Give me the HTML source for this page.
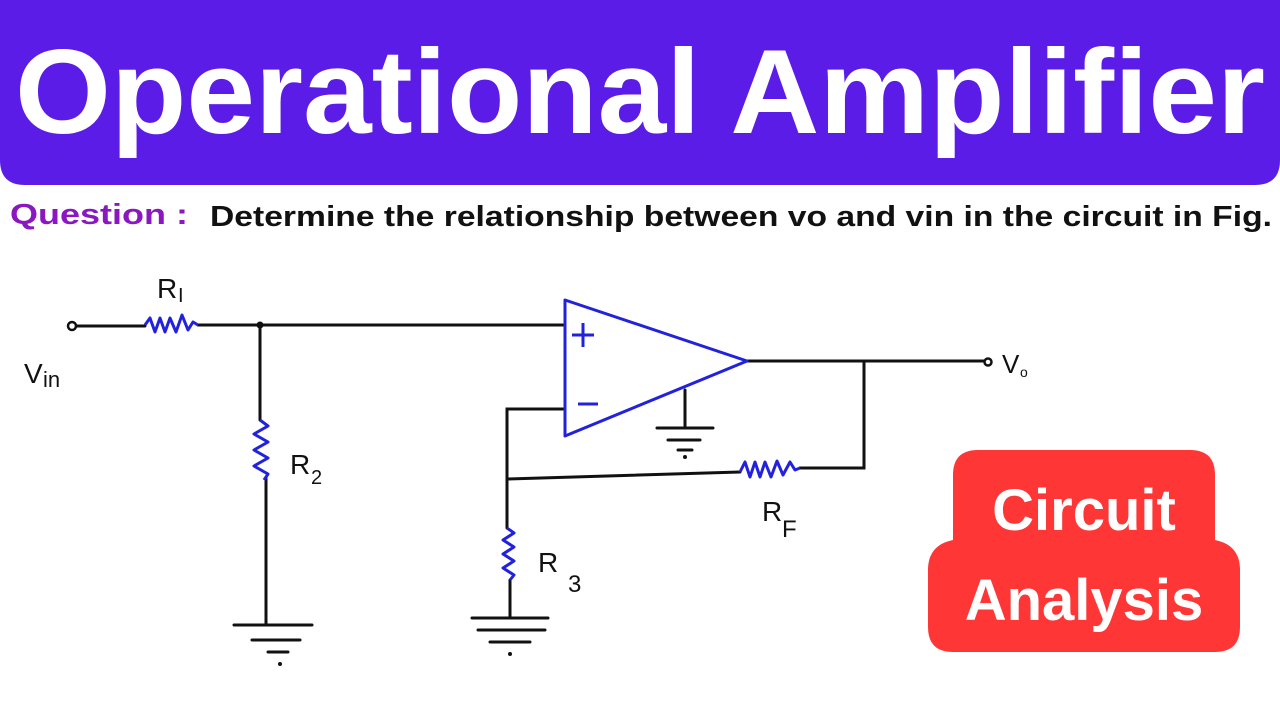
<!DOCTYPE html>
<html><head><meta charset="utf-8"><style>
html,body{margin:0;padding:0;background:#fff;width:1280px;height:720px;overflow:hidden}
</style></head><body>
<svg width="1280" height="720" viewBox="0 0 1280 720" xmlns="http://www.w3.org/2000/svg">
<path d="M0 0 H1280 V160 Q1280 185 1255 185 H25 Q0 185 0 160 Z" fill="#5b1ce8"/>
<text x="15" y="133" font-family="Liberation Sans, sans-serif" font-weight="bold" font-size="120" fill="#fff" textLength="1250" lengthAdjust="spacingAndGlyphs">Operational Amplifier</text>
<text x="10" y="224" font-family="Liberation Sans, sans-serif" font-weight="bold" font-size="29" fill="#8a17c0" textLength="178" lengthAdjust="spacingAndGlyphs">Question :</text>
<text x="210" y="226" font-family="Liberation Sans, sans-serif" font-weight="bold" font-size="29" fill="#111" textLength="1062" lengthAdjust="spacingAndGlyphs">Determine the relationship between vo and vin in the circuit in Fig.</text>

<g fill="none" stroke="#111" stroke-width="3" stroke-linecap="round">
<path d="M76 326 H145 M198 325 H563"/>
<path d="M260 325 V420 M266 478 V625"/>
<path d="M234 625 H312 M252 640 H300 M268 652 H288"/>
<path d="M563 409 H507 V528 M507 479 L740 472 M800 468 H864 V361 M747 361 H985"/>
<path d="M685 390 V428 M657 428 H713 M668 440 H700 M678 450 H692"/>
<path d="M510 580 V618 M472 618 H548 M478 630 H545 M490 642 H530"/>
</g>
<circle cx="72" cy="326" r="4" fill="#fff" stroke="#111" stroke-width="2.5"/>
<circle cx="260" cy="325" r="3.5" fill="#111"/>
<circle cx="988" cy="362" r="3.5" fill="#fff" stroke="#111" stroke-width="2.5"/>
<circle cx="280" cy="664" r="2" fill="#111"/>
<circle cx="685" cy="457" r="2" fill="#111"/>
<circle cx="510" cy="654" r="2" fill="#111"/>

<g fill="none" stroke="#2222dd" stroke-width="3" stroke-linejoin="round">
<path d="M565 300 L747 361 L565 436 Z"/>
<path d="M583 323 V347 M572 335 H594 M578 404 H598"/>
<path d="M145 325 L150 318 L155 332 L160 318 L165 332 L170 318 L176 332 L182 315 L188 330 L193 322 L198 325"/>
<path d="M260 420 L268 426 L254 434 L268 442 L254 450 L268 458 L254 466 L268 474 L264 480"/>
<path d="M507 528 L514 533 L503 540 L514 547 L503 554 L514 561 L503 568 L514 575 L510 580"/>
<path d="M740 472 L745 462 L750 477 L755 462 L760 477 L765 462 L771 477 L777 461 L783 475 L790 462 L795 470 L800 468"/>
</g>

<g font-family="Liberation Sans, sans-serif" font-size="28" fill="#111">
<text x="157" y="298">R</text><text x="178" y="302" font-size="20">I</text>
<text x="24" y="383">V</text><text x="43" y="387" font-size="22">in</text>
<text x="290" y="474">R</text><text x="311" y="484" font-size="20">2</text>
<text x="538" y="572">R</text><text x="568" y="592" font-size="24">3</text>
<text x="762" y="521">R</text><text x="782" y="537" font-size="24">F</text>
<text x="1002" y="373" font-size="26">V</text><text x="1020" y="377" font-size="14">o</text>
</g>

<path d="M978 450 H1190 Q1215 450 1215 475 V540 H1215 Q1240 545 1240 570 V627 Q1240 652 1215 652 H953 Q928 652 928 627 V570 Q928 545 953 540 V475 Q953 450 978 450 Z" fill="#fe3636"/>
<text x="1084" y="530" text-anchor="middle" font-family="Liberation Sans, sans-serif" font-weight="bold" font-size="58" fill="#fff">Circuit</text>
<text x="1084" y="620" text-anchor="middle" font-family="Liberation Sans, sans-serif" font-weight="bold" font-size="58" fill="#fff">Analysis</text>
</svg>
</body></html>
